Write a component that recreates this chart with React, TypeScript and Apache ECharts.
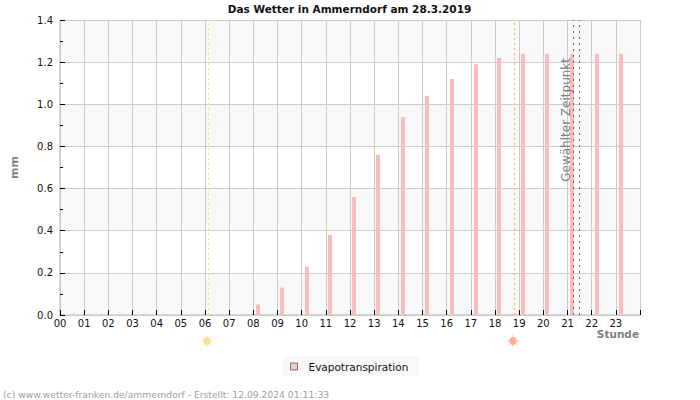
import React, { useEffect, useRef } from "react";
import * as echarts from "echarts";

const FONT = "'DejaVu Sans', sans-serif";

// Hour at which each evapotranspiration reading was taken, and its value in mm
const readingHours = [8.19, 9.2, 10.2, 11.19, 12.18, 13.17, 14.2, 15.2, 16.2, 17.2, 18.18, 19.17, 20.17, 21.2, 22.2, 23.2];
const evapotranspiration = [0.05, 0.13, 0.23, 0.38, 0.56, 0.76, 0.94, 1.04, 1.12, 1.19, 1.22, 1.24, 1.24, 1.24, 1.24, 1.24];

const sunriseHour = 6.145;
const sunsetHour = 18.807;
const selectedFromHour = 21.25;
const selectedToHour = 21.5;

const hourLabels = ["00", "01", "02", "03", "04", "05", "06", "07", "08", "09", "10", "11", "12", "13", "14", "15", "16", "17", "18", "19", "20", "21", "22", "23", ""];

// A small sun: a disc with eight short rays
function sunIcon(cx: number, cy: number, fill: string, ray: string) {
  const rays = [];
  for (let i = 0; i < 8; i++) {
    const a = (i * Math.PI) / 4;
    rays.push({
      type: "line",
      shape: {
        x1: cx + Math.cos(a) * 4,
        y1: cy + Math.sin(a) * 4,
        x2: cx + Math.cos(a) * 6.3,
        y2: cy + Math.sin(a) * 6.3,
      },
      style: { stroke: ray, lineWidth: 1 },
      silent: true,
    });
  }
  return {
    type: "group",
    silent: true,
    children: [
      ...rays,
      { type: "circle", shape: { cx, cy, r: 3.9 }, style: { fill }, silent: true },
    ],
  };
}

// Draws one thin bar from the axis up to the reading, through the chart's own scales
function renderReading(_params: any, api: any) {
  const top = api.coord([api.value(0), api.value(1)]);
  const base = api.coord([api.value(0), 0]);
  return {
    type: "rect",
    shape: { x: Math.round(top[0]) - 2, y: top[1], width: 4, height: base[1] - top[1] },
    style: { fill: "#ffbaba" },
  };
}

export default function App() {
  const ref = useRef<HTMLDivElement>(null);

  useEffect(() => {
    const chart = echarts.init(ref.current!, null, { renderer: "svg" });
    chart.setOption({
      animation: false,
      backgroundColor: "#ffffff",
      textStyle: { fontFamily: FONT },
      title: {
        text: "Das Wetter in Ammerndorf am 28.3.2019",
        left: 349.5,
        top: 3,
        padding: 0,
        textAlign: "center",
        textStyle: { fontFamily: FONT, fontSize: 10.5, fontWeight: "bold", color: "#111111" },
      },
      grid: { left: 60, right: 60, top: 20, bottom: 85, show: false },
      legend: {
        left: 283,
        top: 356,
        padding: [5, 10, 4, 7],
        backgroundColor: "#f8f8f8",
        itemWidth: 7,
        itemHeight: 7,
        itemGap: 0,
        icon: "rect",
        itemStyle: { color: "#f8c8c8", borderColor: "#777777", borderWidth: 1 },
        textStyle: { fontFamily: FONT, fontSize: 10.5, color: "#111111", padding: [0, 0, 0, 6] },
        data: ["Evapotranspiration"],
      },
      xAxis: {
        type: "value",
        min: 0,
        max: 24,
        interval: 1,
        axisLine: { show: true, lineStyle: { color: "#cccccc", width: 1.5 } },
        axisTick: { show: true, inside: true, length: 5, lineStyle: { color: "#000000", width: 1 } },
        axisLabel: {
          fontFamily: FONT,
          fontSize: 10,
          color: "#111111",
          margin: 3,
          hideOverlap: false,
          showMinLabel: true,
          showMaxLabel: true,
          formatter: (v: number) => hourLabels[v],
        },
        splitLine: { show: true, lineStyle: { color: "#cccccc", width: 1 } },
      },
      yAxis: {
        type: "value",
        min: 0,
        max: 1.4,
        interval: 0.2,
        name: "mm",
        nameLocation: "middle",
        nameGap: 40,
        nameTextStyle: { fontFamily: FONT, fontSize: 11, fontWeight: "bold", color: "#808080" },
        axisLine: { show: true, onZero: false, lineStyle: { color: "#cccccc", width: 1.5 } },
        axisTick: { show: true, inside: true, length: 5, lineStyle: { color: "#000000", width: 1 } },
        minorTick: { show: true, splitNumber: 2, length: 3, lineStyle: { color: "#000000", width: 1 } },
        axisLabel: {
          fontFamily: FONT,
          fontSize: 10,
          color: "#111111",
          margin: 7,
          formatter: (v: number) => v.toFixed(1),
        },
        splitLine: { show: true, lineStyle: { color: "#cccccc", width: 1 } },
        splitArea: { show: true, areaStyle: { color: ["#f8f8f8", "#ffffff"] } },
      },
      series: [
        {
          name: "Evapotranspiration",
          type: "custom",
          renderItem: renderReading,
          encode: { x: 0, y: 1 },
          itemStyle: { color: "#ffbaba" },
          data: readingHours.map((h, i) => [h, evapotranspiration[i]]),
          markLine: {
            silent: true,
            symbol: "none",
            label: { show: false },
            data: [
              { xAxis: sunriseHour, lineStyle: { color: "#f5ea50", type: [2, 3], width: 1 } },
              { xAxis: sunsetHour, lineStyle: { color: "#fbb93c", type: [2, 3], width: 1 } },
              {
                xAxis: selectedFromHour,
                lineStyle: { color: "#666666", type: [2, 4], width: 1 },
                label: {
                  show: true,
                  formatter: "Gewählter Zeitpunkt",
                  position: "insideEndTop",
                  distance: [38, 2],
                  fontFamily: FONT,
                  fontSize: 12,
                  color: "#808080",
                },
              },
              { xAxis: selectedToHour, lineStyle: { color: "#666666", type: [2, 4], width: 1 } },
            ],
          },
        },
      ],
      graphic: [
        sunIcon(207, 341, "#fde28e", "#fdeab4"),
        sunIcon(513, 341, "#fdb199", "#fdcbb9"),
        {
          type: "text",
          x: 639,
          y: 334,
          silent: true,
          style: {
            text: "Stunde",
            fontFamily: FONT,
            fontSize: 10.5,
            fontWeight: "bold",
            fill: "#808080",
            textAlign: "right",
            textVerticalAlign: "middle",
          },
        },
        {
          type: "text",
          x: 3,
          y: 394,
          silent: true,
          style: {
            text: "(c) www.wetter-franken.de/ammerndorf - Erstellt: 12.09.2024 01:11:33",
            fontFamily: FONT,
            fontSize: 9.2,
            fill: "#a0a0a0",
            textAlign: "left",
            textVerticalAlign: "middle",
          },
        },
      ],
    });
    return () => chart.dispose();
  }, []);

  return (
    <div
      ref={ref}
      style={{ position: "absolute", left: 0, top: 0, width: 700, height: 400 }}
    />
  );
}
